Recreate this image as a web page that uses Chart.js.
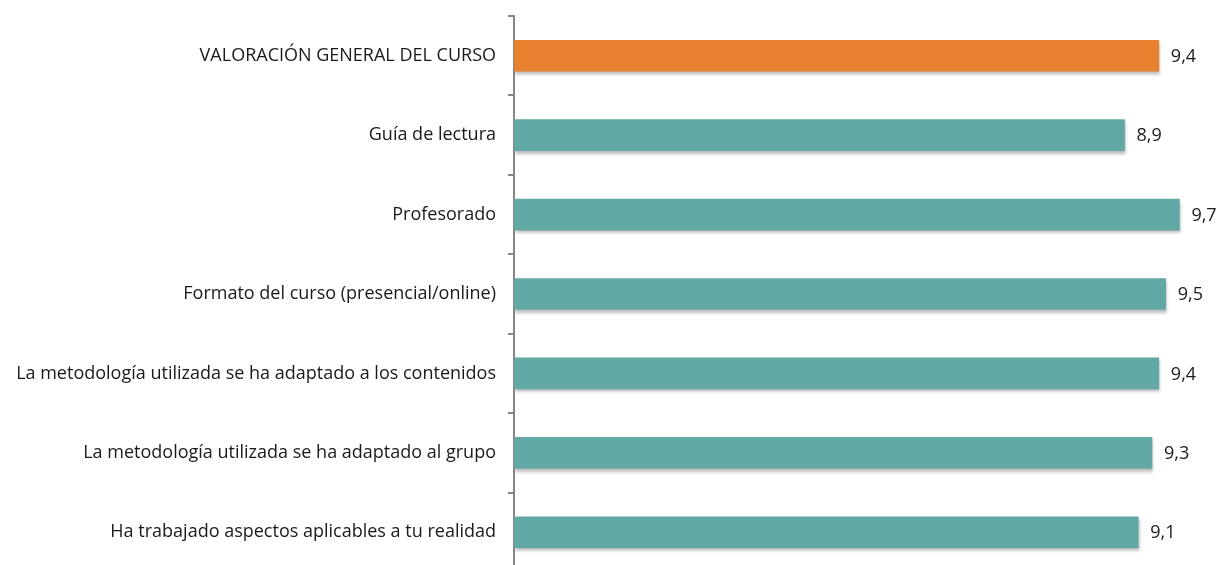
<!DOCTYPE html>
<html>
<head>
<meta charset="utf-8">
<script src="https://cdn.jsdelivr.net/npm/chart.js@4.4.0/dist/chart.umd.min.js"></script>
<style>
html,body{margin:0;padding:0;background:#fff;overflow:hidden;}
#wrap{width:1220px;height:572px;position:relative;}
</style>
</head>
<body>
<div id="wrap"><canvas id="c" width="1220" height="572"></canvas></div>
<script>
const categories = [
  "VALORACIÓN GENERAL DEL CURSO",
  "Guía de lectura",
  "Profesorado",
  "Formato del curso (presencial/online)",
  "La metodología utilizada se ha adaptado a los contenidos",
  "La metodología utilizada se ha adaptado al grupo",
  "Ha trabajado aspectos aplicables a tu realidad"
];
const values = [9.4, 8.9, 9.7, 9.5, 9.4, 9.3, 9.1];
const barColors = ["#E8822E", "#62A9A6", "#62A9A6", "#62A9A6", "#62A9A6", "#62A9A6", "#62A9A6"];

const FONT = "'Open Sans'";
const FS = 18;

const shadowPlugin = {
  id: 'barShadow',
  beforeDatasetDraw(chart) {
    const ctx = chart.ctx;
    ctx.save();
    ctx.shadowColor = 'rgba(0,0,0,0.28)';
    ctx.shadowBlur = 3;
    ctx.shadowOffsetX = 1;
    ctx.shadowOffsetY = 3;
  },
  afterDatasetDraw(chart) {
    chart.ctx.restore();
  }
};

const labelPlugin = {
  id: 'valueLabels',
  afterDatasetsDraw(chart) {
    const ctx = chart.ctx;
    const meta = chart.getDatasetMeta(0);
    ctx.save();
    ctx.font = FS + "px " + FONT;
    ctx.fillStyle = "#1a1a1a";
    ctx.textAlign = "left";
    ctx.textBaseline = "middle";
    meta.data.forEach((bar, i) => {
      const txt = values[i].toFixed(1).replace('.', ',');
      ctx.fillText(txt, bar.x + 12, bar.y + 1);
    });
    ctx.restore();
  }
};

new Chart(document.getElementById('c'), {
  type: 'bar',
  data: {
    labels: categories,
    datasets: [{
      data: values,
      backgroundColor: barColors,
      borderWidth: 0,
      barThickness: 31
    }]
  },
  options: {
    indexAxis: 'y',
    responsive: false,
    animation: false,
    layout: { padding: { top: 16, right: 20, bottom: 0, left: 0 } },
    plugins: { legend: { display: false }, tooltip: { enabled: false } },
    scales: {
      x: { display: false, min: 0, max: 10 },
      y: {
        afterFit(scale) { scale.width = 514; scale.paddingTop = 0; scale.paddingBottom = 0; },
        border: { display: true, color: '#868686', width: 2 },
        grid: { offset: true, drawOnChartArea: false, drawTicks: true, tickLength: 6, color: '#868686', lineWidth: 2 },
        ticks: { color: '#1a1a1a', font: { family: FONT, size: FS }, padding: 12 }
      }
    }
  },
  plugins: [shadowPlugin, labelPlugin]
});
</script>
</body>
</html>
